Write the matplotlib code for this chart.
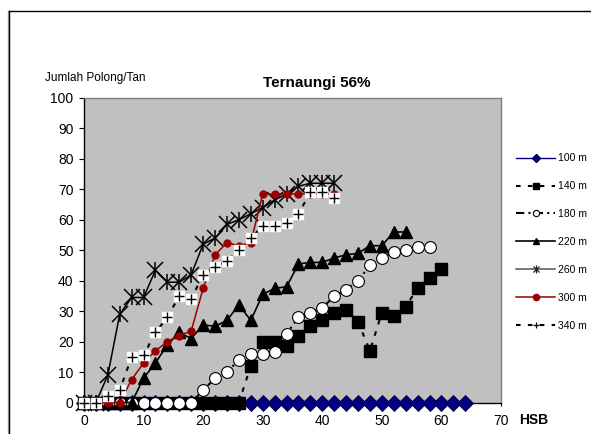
import matplotlib
matplotlib.use("Agg")
import matplotlib.pyplot as plt
from matplotlib.lines import Line2D
from matplotlib.legend_handler import HandlerTuple

plt.rcParams['font.family'] = ['Liberation Sans', 'DejaVu Sans']

# ---- data ----
hsb_100 = list(range(0, 66, 2))
val_100 = [0] * len(hsb_100)

hsb_140 = list(range(0, 62, 2))
val_140 = [0, 0, 0, 0, 0, 0, 0, 0, 0, 0, 0, 0, 0, 0,
           12, 20, 20, 18.5, 22, 25, 27, 29.5, 30.5, 26.5, 17, 29.5, 28.5, 31.5, 37.5, 41, 44]

hsb_180 = list(range(0, 60, 2))
val_180 = [0, 0, 0, 0, 0, 0, 0, 0, 0, 0,
           4, 8, 10, 14, 16, 16, 16.5, 22.5, 28, 29.5, 31, 35, 37, 40, 45, 47.5, 49.5, 50, 51, 51]

hsb_220 = list(range(0, 56, 2))
val_220 = [0, 0, 0, 0, 0, 8, 13, 19, 23, 21, 25.5, 25, 27, 32, 27, 35.5, 37.5, 38,
           45.5, 46, 46, 47.5, 48.5, 49, 51.5, 51.5, 56, 56]

hsb_260 = list(range(0, 44, 2))
val_260 = [0, 0, 9, 29, 34.5, 34.5, 43.5, 39.5, 39.5, 42, 52, 54, 58.5, 60, 62, 64,
           66.5, 68.5, 71, 72, 72, 72]

hsb_300 = list(range(0, 44, 2))
val_300 = [0, 0, 0, 0, 7.5, 13, 17, 20, 22, 23.5, 37.5, 48.5, 52.5, 51.5, 52.5,
           68.5, 68.5, 68.5, 68.5, 68.5, 68.5, 68.5]

hsb_340 = list(range(0, 44, 2))
val_340 = [0, 0, 2, 4, 15, 15.5, 23, 28, 35, 34, 42, 44.5, 46.5, 50, 54, 58, 58, 59,
           62, 69, 69, 67]

labels = ['100 m', '140 m', '180 m', '220 m', '260 m', '300 m', '340 m']
x_ticks = [0, 10, 20, 30, 40, 50, 60, 70]
y_ticks = [0, 10, 20, 30, 40, 50, 60, 70, 80, 90, 100]

# ---- figure ----
W, H = 591, 434
fig = plt.figure(figsize=(W / 100, H / 100), dpi=100)
fig.patch.set_facecolor('white')

ax = fig.add_axes([84 / W, (H - 402.5) / H, (501 - 84) / W, (402.5 - 98) / H])
ax.set_facecolor('#C0C0C0')
ax.set_xlim(0, 70)
ax.set_ylim(0, 100)

navy = '#000080'
dred = '#990000'
dash140 = (0, (2.2, 3.5))
dashdot180 = (0, (4, 2, 1, 2))
dash340 = (0, (2.2, 3.5))

ax.plot(hsb_100, val_100, color=navy, lw=1, marker='D', ms=8.5,
        mfc=navy, mec='#000040', mew=0.6, clip_on=False, zorder=3)
ax.plot(hsb_140, val_140, color='black', lw=1.5, ls=dash140, marker='s', ms=8.5,
        mfc='black', mec='black', clip_on=False, zorder=4)
ax.plot(hsb_180, val_180, color='black', lw=1.5, ls=dashdot180, marker='o', ms=8.5,
        mfc='white', mec='black', mew=0.8, clip_on=False, zorder=5)
ax.plot(hsb_220, val_220, color='black', lw=1.2, marker='^', ms=9,
        mfc='black', mec='black', clip_on=False, zorder=6)
ax.plot(hsb_260, val_260, color='black', lw=1.1, marker='x', ms=11,
        mec='black', mew=1.1, clip_on=False, zorder=7)
ax.plot(hsb_260, val_260, ls='none', marker='|', ms=12,
        mec='black', mew=1.1, clip_on=False, zorder=7)
ax.plot(hsb_300, val_300, color=dred, lw=1.1, marker='o', ms=5,
        mfc=dred, mec=dred, clip_on=False, zorder=8)
ax.plot(hsb_340, val_340, color='black', lw=1.5, ls=dash340, clip_on=False, zorder=9)
ax.plot(hsb_340, val_340, ls='none', marker='s', ms=7, mfc='white', mec='white',
        clip_on=False, zorder=9)
ax.plot(hsb_340, val_340, ls='none', marker='+', ms=7, mec='black', mew=1.0,
        clip_on=False, zorder=9)

ax.set_xticks(x_ticks)
ax.set_yticks(y_ticks)
ax.tick_params(axis='x', direction='out', length=2.5, width=0.8, pad=6,
               labelsize=10, colors='black')
ax.tick_params(axis='y', direction='out', length=3.6, width=0.8, pad=4,
               labelsize=10, colors='black')
for s in ['left', 'bottom']:
    ax.spines[s].set_color('black')
    ax.spines[s].set_linewidth(1.0)
for s in ['top', 'right']:
    ax.spines[s].set_color('#808080')
    ax.spines[s].set_linewidth(1.0)

# texts
fig.text(45 / W, 1 - 78 / H, 'Jumlah Polong/Tan', ha='left', va='center', fontsize=8.5)
fig.text(316.7 / W, 1 - 82.7 / H, 'Ternaungi 56%', ha='center', va='center',
         fontsize=11, fontweight='bold')
fig.text(519 / W, 1 - 420 / H, 'HSB', ha='left', va='center', fontsize=10,
         fontweight='bold')

# legend
h100 = Line2D([], [], color=navy, lw=1, marker='D', ms=4, mfc=navy, mec='#000040')
h140 = Line2D([], [], color='black', lw=1.5, ls=dash140, marker='s', ms=4.5,
              mfc='black', mec='black')
h180 = Line2D([], [], color='black', lw=1.5, ls=dashdot180, marker='o', ms=4.5,
              mfc='white', mec='black', mew=0.8)
h220 = Line2D([], [], color='black', lw=1.2, marker='^', ms=5, mfc='black', mec='black')
h260a = Line2D([], [], color='#555555', lw=1.1, marker='x', ms=5, mec='#202020', mew=0.9)
h260b = Line2D([], [], ls='none', marker='|', ms=6, mec='#202020', mew=0.9)
h300 = Line2D([], [], color=dred, lw=1.1, marker='o', ms=4.5, mfc=dred, mec=dred)
h340 = Line2D([], [], color='black', lw=1.5, ls=dash340, marker='+', ms=5,
              mec='black', mew=0.9)

fig.legend([h100, h140, h180, h220, (h260a, h260b), h300, h340], labels,
           handler_map={tuple: HandlerTuple(ndivide=1)},
           loc='center left', bbox_to_anchor=(516 / W, 1 - 242 / H),
           frameon=False, fontsize=7.5, handlelength=3.75, handletextpad=0.25,
           labelspacing=1.72, borderpad=0, borderaxespad=0)

# outer chart border
fig.add_artist(Line2D([7.5 / W, 7.5 / W], [0, 1 - 10.5 / H], transform=fig.transFigure,
                      color='#b0b0b0', lw=1))
fig.add_artist(Line2D([9.5 / W, 9.5 / W], [0, 1 - 10.5 / H], transform=fig.transFigure,
                      color='black', lw=1))
fig.add_artist(Line2D([9.5 / W, 1], [1 - 10.5 / H, 1 - 10.5 / H], transform=fig.transFigure,
                      color='black', lw=1))

fig.savefig('out.png', dpi=100, facecolor='white')
